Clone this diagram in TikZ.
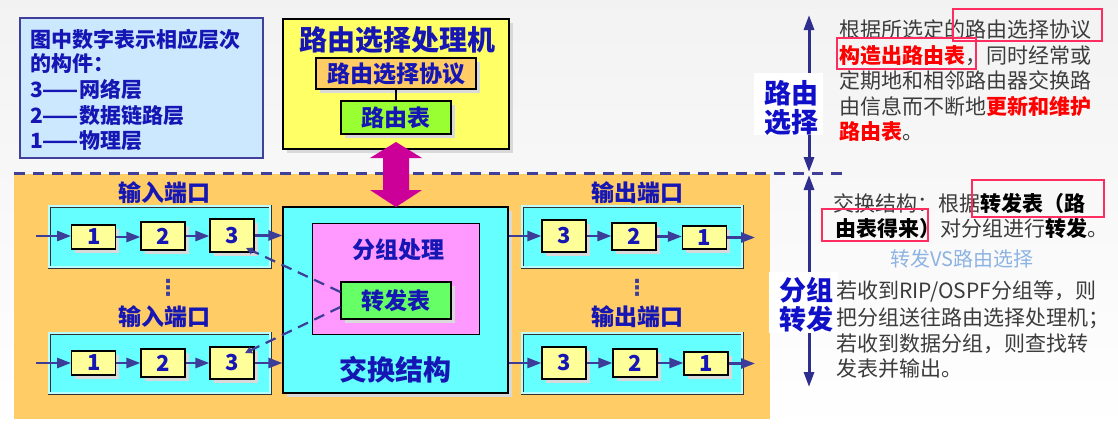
\documentclass[tikz,border=0pt]{standalone}
\usepackage{fontspec}
\setmainfont{Noto Sans CJK SC}
\newfontfamily\dejavu{DejaVu Sans}
\usetikzlibrary{arrows.meta,shadows,calc}
\definecolor{tblue}{RGB}{22,22,180}
\definecolor{lblue}{RGB}{204,232,255}
\definecolor{bordb}{RGB}{64,64,155}
\definecolor{ylw}{RGB}{255,255,102}
\definecolor{orng}{RGB}{255,204,102}
\definecolor{lime}{RGB}{153,255,51}
\definecolor{mag}{RGB}{204,0,153}
\definecolor{bgor}{RGB}{255,204,102}
\definecolor{cyanf}{RGB}{102,255,255}
\definecolor{pinkf}{RGB}{255,153,255}
\definecolor{grnf}{RGB}{102,255,102}
\definecolor{lyel}{RGB}{255,255,153}
\definecolor{arr}{RGB}{60,60,153}
\definecolor{vblue}{RGB}{46,46,142}
\definecolor{hblue}{RGB}{16,16,200}
\definecolor{rtxt}{RGB}{60,60,60}
\definecolor{redt}{RGB}{255,0,0}
\definecolor{rboxc}{RGB}{255,45,95}
\definecolor{vsblue}{RGB}{141,179,226}
\begin{document}
\begin{tikzpicture}[x=1pt,y=-1pt,
  shad/.style={drop shadow={shadow xshift=3.5pt,shadow yshift=-3.5pt,fill=gray!30,opacity=1}},
  bx/.style={draw=black,line width=1.2pt,inner sep=0pt,shad},
  bfb/.style={text=tblue,font=\fontsize{23}{23}\selectfont\bfseries},
  numbx/.style={bx,fill=lyel,minimum width=44pt,text=tblue,font=\fontsize{22}{22}\selectfont\bfseries},
  port/.style={draw=black!80,line width=0.8pt,double=cyanf!45!white,double distance=1.4pt,fill=cyanf,inner sep=0pt},
  portlbl/.style={text=tblue,inner sep=0pt,font=\fontsize{23}{23}\selectfont\bfseries},
  flow/.style={draw=arr,line width=2.6pt,-{Triangle[length=14pt,width=10pt]}},
  dsh/.style={draw=arr,line width=2.2pt,dash pattern=on 11pt off 7pt,-{Triangle[length=7pt,width=7pt]}},
  rboxs/.style={draw=rboxc,line width=2pt},
  lg/.style={anchor=base west,inner sep=0pt,text=tblue,font=\fontsize{21}{21}\selectfont\bfseries},
  rt/.style={anchor=base west,inner sep=0pt,text=rtxt,font=\fontsize{21}{21}\selectfont},
  varr/.style={draw=vblue,line width=3pt,{Triangle[length=15pt,width=10pt]}-{Triangle[length=15pt,width=10pt]}},
  hl/.style={text=hblue,inner sep=0pt,align=center,font=\fontsize{27}{29}\selectfont\bfseries},
  dots/.style={text=arr,inner sep=0pt,font=\dejavu\bfseries\fontsize{22}{22}\selectfont}
]
\shade[top color=gray!10,bottom color=white] (0,0) rectangle (1118,431);
\useasboundingbox (0,0) rectangle (1118,431);

% legend
\node[draw=bordb,line width=2pt,fill=lblue,minimum width=243,minimum height=140,inner sep=0] (leg) at (141,88) {};
\node[lg] (lg1) at (30,47) {图中数字表示相应层次};
\node[lg] (lg2) at (30,71) {的构件：};
\node[lg] (lg3) at (30,97) {3——网络层};
\node[lg] (lg4) at (30,123) {2——数据链路层};
\node[lg] (lg5) at (30,148) {1——物理层};

% routing processor
\node[bx,fill=ylw,minimum width=226,minimum height=130] (rp) at (396,84) {};
\node[text=tblue,inner sep=0,font=\fontsize{28}{28}\selectfont\bfseries] (rpt) at (397,40) {路由选择处理机};
\node[bx,bfb,fill=orng,minimum width=160,minimum height=31] (proto) at (396,73.5) {路由选择协议};
\node[bx,bfb,fill=lime,minimum width=110,minimum height=33] (rtab) at (396,117.5) {路由表};
\draw[line width=1.5pt] (proto) -- (rtab);

% orange region and dashed separator
\fill[bgor] (14,173.5) rectangle (770,419);
\coordinate (dl) at (14,173.5);
\coordinate (dr) at (843,173.5);
\draw[draw=bordb,line width=2.2pt,dash pattern=on 11pt off 8pt] (dl) -- (dr);

% switch fabric
\node[bx,fill=cyanf,minimum width=225,minimum height=186] (sw) at (395.5,300) {};
\node[text=tblue,inner sep=0,font=\fontsize{28}{28}\selectfont\bfseries] (swl) at (395,370) {交换结构};
\node[draw=black,line width=1pt,fill=pinkf,minimum width=167,minimum height=111,inner sep=0] (pk) at (395.5,278.5) {};
\node[portlbl] (pkl) at (398,250) {分组处理};
\node[bx,bfb,fill=grnf,minimum width=110,minimum height=37] (fwd) at (396,300.5) {转发表};

% magenta double arrow
\fill[mag] (396,142) -- (422,158) -- (409,158) -- (409,190) -- (422,190) -- (396,207)
  -- (370,190) -- (383,190) -- (383,158) -- (370,158) -- cycle;

% input ports
\node[port,minimum width=221,minimum height=61] (ip1) at (159.5,236.5) {};
\node[portlbl] (ip1l) at (164.5,193) {输入端口};
\node[numbx,minimum height=24] (i11) at (93.7,237) {1};
\node[numbx,minimum height=28] (i12) at (163,236) {2};
\node[numbx,minimum height=33] (i13) at (232,235.5) {3};
\coordinate (ia1) at (36,236);
\draw[flow] (ia1) -- (ia1 -| i11.west);
\draw[flow] (i11.east) -- (i11.east -| i12.west);
\draw[flow] (i12.east) -- (i12.east -| i13.west);
\draw[flow] (i13.east) -- (i13.east -| sw.west);

\node[dots] (idots) at (168,288) {⋮};

\node[port,minimum width=221,minimum height=60] (ip2) at (159.5,363) {};
\node[portlbl] (ip2l) at (164.5,317) {输入端口};
\node[numbx,minimum height=24] (i21) at (93.7,363) {1};
\node[numbx,minimum height=28] (i22) at (163,363) {2};
\node[numbx,minimum height=32] (i23) at (232,363) {3};
\coordinate (ia2) at (36,363);
\draw[flow] (ia2) -- (ia2 -| i21.west);
\draw[flow] (i21.east) -- (i21.east -| i22.west);
\draw[flow] (i22.east) -- (i22.east -| i23.west);
\draw[flow] (i23.east) -- (i23.east -| sw.west);

% dashed lookups
\coordinate (k1) at (246,248);
\coordinate (k2) at (245,353);
\draw[dsh] ($(fwd.west)+(0,-8.5)$) -- (k1);
\draw[dsh] ($(fwd.west)+(0,6.5)$) -- (k2);

% output ports
\node[port,minimum width=220,minimum height=61] (op1) at (632,236.5) {};
\node[portlbl] (op1l) at (637,193) {输出端口};
\node[numbx,minimum height=32] (o13) at (564,236) {3};
\node[numbx,minimum height=27] (o12) at (634,236.5) {2};
\node[numbx,minimum height=23] (o11) at (704.5,237.5) {1};
\coordinate (oa1) at (755,237.5);
\draw[flow] (sw.east |- o13.west) -- (o13.west);
\draw[flow] (o13.east) -- (o13.east -| o12.west);
\draw[flow] (o12.east) -- (o12.east -| o11.west);
\draw[flow] (o11.east) -- (oa1);

\node[dots] (odots) at (637,288) {⋮};

\node[port,minimum width=220,minimum height=60] (op2) at (632,363) {};
\node[portlbl] (op2l) at (637,317) {输出端口};
\node[numbx,minimum height=32] (o23) at (564,363) {3};
\node[numbx,minimum height=28] (o22) at (635,363) {2};
\node[numbx,minimum height=23] (o21) at (706,363.5) {1};
\coordinate (oa2) at (755,363.5);
\draw[flow] (sw.east |- o23.west) -- (o23.west);
\draw[flow] (o23.east) -- (o23.east -| o22.west);
\draw[flow] (o22.east) -- (o22.east -| o21.west);
\draw[flow] (o21.east) -- (oa2);

% right side arrows
\coordinate (va1) at (809,15);
\coordinate (vb1) at (809,172);
\coordinate (va2) at (809,175);
\coordinate (vb2) at (809,387);
\draw[varr] (va1) -- (vb1);
\draw[varr] (va2) -- (vb2);
\node[fill=white,minimum width=69,minimum height=62,inner sep=0] (lrbox) at (788.5,104) {};
\node[hl] (lrt) at (791,107.5) {路由\\选择};
\node[fill=white,minimum width=69,minimum height=61,inner sep=0] (fzbox) at (803.5,302.5) {};
\node[hl] (fzt) at (806,305) {分组\\转发};

% right texts
\node[rt] (r1) at (839,37) {根据所选定的路由选择协议};
\node[rt] (r2) at (839,63) {{\color{redt}\bfseries 构造出路由表}，同时经常或};
\node[rt] (r3) at (839,88) {定期地和相邻路由器交换路};
\node[rt] (r4) at (839,114) {由信息而不断地{\color{redt}\bfseries 更新和维护}};
\node[rt] (r5) at (839,139) {{\color{redt}\bfseries 路由表}。};
\draw[rboxs] (953,9) rectangle (1102,41);
\draw[rboxs] (837,38) rectangle (976,69);

\node[rt] (b1) at (833,211) {交换结构：根据{\color{black}\bfseries 转发表（路}};
\node[rt] (b2) at (835,236) {{\color{black}\bfseries 由表得来）}对分组进行{\color{black}\bfseries 转发}。};
\draw[rboxs] (972,180) rectangle (1104,217);
\draw[rboxs] (822,209) rectangle (928,241);
\node[text=vsblue,inner sep=0,font=\fontsize{20}{20}\selectfont] (vs) at (962,259) {转发VS路由选择};

\node[rt] (c1) at (836,298) {若收到RIP/OSPF分组等，则};
\node[rt] (c2) at (836,325) {把分组送往路由选择处理机；};
\node[rt] (c3) at (836,351) {若收到数据分组，则查找转};
\node[rt] (c4) at (836,376) {发表并输出。};
\end{tikzpicture}
\end{document}
